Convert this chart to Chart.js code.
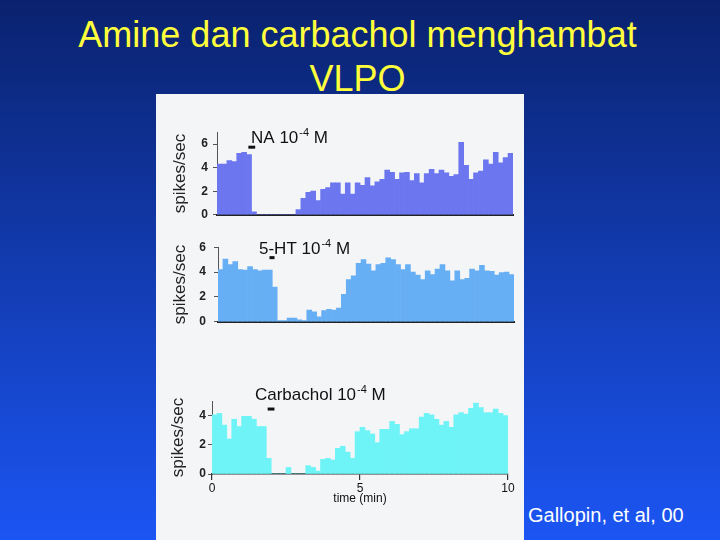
<!DOCTYPE html>
<html lang="id">
<head>
  <meta charset="UTF-8" />
  <title>Amine dan carbachol menghambat VLPO</title>
  <script src="https://cdn.jsdelivr.net/npm/chart.js"></script>
  <style>
    html, body {
      margin: 0;
      padding: 0;
    }
    body {
      width: 720px;
      height: 540px;
      overflow: hidden;
      position: relative;
      background: linear-gradient(to bottom, #0a226e, #1b55f3);
      font-family: 'Liberation Sans', Arial, sans-serif;
    }
    .title {
      position: absolute;
      left: 0;
      width: 715px;
      top: 13px;
      text-align: center;
      color: #ffff3c;
      font-size: 36px;
      line-height: 44px;
    }
    .panel {
      position: absolute;
      left: 156px;
      top: 94px;
      width: 368px;
      height: 446px;
      background: #f4f5f7;
    }
    .panel canvas {
      position: absolute;
      left: 0;
    }
    .credit {
      position: absolute;
      left: 528px;
      top: 505px;
      color: #fff;
      font-size: 20px;
      line-height: 20px;
    }
  </style>
</head>
<body>

  <div class="title">Amine dan carbachol menghambat<br>VLPO</div>

  <div class="panel">
    <canvas id="naChart" width="368" height="107" style="top: 26px;"></canvas>
    <canvas id="htChart" width="368" height="105" style="top: 138px;"></canvas>
    <canvas id="carbChart" width="368" height="130" style="top: 286px;"></canvas>
  </div>

  <div class="credit">Gallopin, et al, 00</div>

  <script>
    // firing rate (spikes/sec) in 10 s bins over 10 minutes
    const binMinutes = 10 / 60;

    const naRate = [4.3, 4.3, 4.6, 4.5, 5.2, 5.3, 5.1, 0.25, 0, 0, 0, 0, 0, 0, 0, 0,
      0.45, 1.4, 1.9, 2.0, 1.2, 2.15, 2.3, 2.7, 2.7, 1.75, 2.7, 1.75, 2.7,
      2.5, 3.15, 2.45, 2.8, 3.0, 3.8, 3.6, 3.0, 3.55, 3.6, 2.9, 3.5, 2.7, 3.5, 3.85,
      3.5, 3.8, 3.55, 3.25, 3.4, 6.15, 4.2, 3.0, 3.55, 3.7, 4.65, 4.3, 5.3, 4.4, 4.85, 5.2];

    const htRate = [4.2, 5.05, 4.6, 4.85, 4.2, 4.15, 4.45, 4.2, 4.1, 4.15, 4.15, 2.8,
      0.1, 0.1, 0.3, 0.3, 0.15, 0.1, 0.95, 0.8, 0.4, 0.9, 1.0, 0.95,
      1.1, 2.2, 3.4, 3.7, 4.7,
      5.0, 4.65, 4.1, 4.6, 4.7, 5.15, 5.0, 4.6, 4.2, 4.6, 4.0, 3.75, 3.4, 4.1, 3.8,
      4.25, 4.6, 4.1, 3.3, 4.1, 3.4, 3.5, 4.25, 4.1, 4.55, 4.1, 4.05, 3.75, 3.95, 4.0, 3.8];

    const carbRate = [4.05, 4.15, 3.35, 2.4, 3.75, 3.25, 3.95, 3.95, 3.75, 3.25, 3.25, 1.07,
      0, 0, 0, 0.45, 0, 0, 0, 0.57, 0.45, 0.2, 1.0,
      1.07, 0.96, 1.76, 1.9, 1.5, 1.07,
      2.9, 3.2, 2.97, 2.74, 2.15, 3.06, 3.06, 3.6, 3.4, 2.7, 2.9, 3.1, 3.1, 3.9, 4.15,
      4.05, 3.75, 3.35, 3.6, 3.2, 4.05, 4.2, 4.1, 4.5, 4.85, 4.55, 4.2, 4.2, 4.45, 4.15, 4.0];

    // drug names and application times (min)
    const drugNames = ['NA', '5-HT', 'Carbachol'];
    const drugStart = [1.06, 1.74, 1.88];
    const drugEnd = [1.29, 1.91, 2.11];

    const timeTicks = [0, 5, 10];
    const yMax = [7, 6, 5];

    const fontFamily = "'Liberation Sans', Arial, sans-serif";

    // draws the drug bar and its label above the trace
    const drugPlugin = {
      id: 'drug',
      afterDatasetsDraw(chart, args, opts) {
        const { ctx, scales: { x, y } } = chart;
        ctx.save();
        ctx.fillStyle = '#111';
        const x0 = x.getPixelForValue(opts.start);
        const x1 = x.getPixelForValue(opts.end);
        const yb = y.getPixelForValue(opts.barY);
        ctx.fillRect(x0, yb - 1.5, x1 - x0, 3);

        let tx = x.getPixelForValue(opts.labelX);
        const ty = y.getPixelForValue(opts.labelY);
        ctx.textBaseline = 'alphabetic';
        ctx.textAlign = 'left';
        ctx.font = '17px ' + fontFamily;
        const main = opts.name + ' 10';
        ctx.fillText(main, tx, ty);
        tx += ctx.measureText(main).width + 1;
        ctx.font = '11px ' + fontFamily;
        ctx.fillText('-4', tx, ty - 7);
        tx += ctx.measureText('-4').width;
        ctx.font = '17px ' + fontFamily;
        ctx.fillText(' M', tx, ty);
        ctx.restore();
      }
    };

    function makeChart(id, rates, color, cfg) {
      const points = rates.map((v, i) => ({ x: (i + 0.5) * binMinutes, y: v }));
      const xScale = {
        type: 'linear',
        min: 0,
        max: 10,
        offset: false,
        grid: { display: false, offset: false },
        border: { color: '#222', width: 2, dash: [3, 1] },
        ticks: { display: false },
        afterFit: s => { s.height = 8; }
      };
      if (cfg.showTime) {
        xScale.border = { color: '#333', width: 1.5 };
        xScale.grid = { display: true, offset: false, drawOnChartArea: false, tickLength: 6, color: '#333', lineWidth: 1.2 };
        xScale.ticks = {
          display: true, stepSize: 5, padding: 1, color: '#111',
          font: { size: 12, family: fontFamily },
          callback: v => timeTicks.includes(v) ? String(v) : ''
        };
        xScale.title = { display: true, text: 'time (min)', color: '#111', font: { size: 12, family: fontFamily }, padding: { top: 0, bottom: 4 } };
        xScale.afterFit = s => { s.height = 36; };
      }

      return new Chart(document.getElementById(id), {
        type: 'bar',
        data: {
          datasets: [{
            data: points,
            backgroundColor: color,
            borderWidth: 0,
            barPercentage: 1,
            categoryPercentage: 1
          }]
        },
        options: {
          responsive: false,
          animation: false,
          layout: { padding: { top: cfg.padTop, right: cfg.padRight, bottom: 0, left: 0 } },
          plugins: {
            legend: { display: false },
            tooltip: { enabled: false },
            drug: cfg.drug
          },
          scales: {
            x: xScale,
            y: {
              min: 0,
              max: cfg.yMax,
              ticks: {
                stepSize: 1,
                padding: cfg.tickPad,
                color: '#222',
                font: { size: 12, weight: 'bold', family: fontFamily },
                callback: v => v % 2 === 0 ? String(v) : ''
              },
              grid: { drawOnChartArea: false, tickLength: 4, color: '#555' },
              border: { color: '#555', width: 1 },
              title: {
                display: true,
                text: 'spikes/sec',
                color: '#222',
                font: { size: 17, family: fontFamily },
                padding: { top: cfg.titlePad, bottom: 0 }
              },
              afterFit: s => { s.width = cfg.axisWidth; }
            }
          }
        },
        plugins: [drugPlugin]
      });
    }

    makeChart('naChart', naRate, '#6b76ef', {
      yMax: yMax[0], padTop: 9, padRight: 11, axisWidth: 61, tickPad: 5, titlePad: 14,
      drug: { name: drugNames[0], start: drugStart[0], end: drugEnd[0], barY: 5.73, labelX: 1.15, labelY: 6.09 }
    });

    makeChart('htChart', htRate, '#67aff4', {
      yMax: yMax[1], padTop: 13, padRight: 10, axisWidth: 62, tickPad: 8, titlePad: 14,
      drug: { name: drugNames[1], start: drugStart[1], end: drugEnd[1], barY: 5.16, labelX: 1.385, labelY: 5.43 }
    });

    makeChart('carbChart', carbRate, '#6ef4f6', {
      yMax: yMax[2], padTop: 21, padRight: 16, axisWidth: 56, tickPad: 2, titlePad: 12, showTime: true,
      drug: { name: drugNames[2], start: drugStart[2], end: drugEnd[2], barY: 4.45, labelX: 1.45, labelY: 5.07 }
    });
  </script>

</body>
</html>
